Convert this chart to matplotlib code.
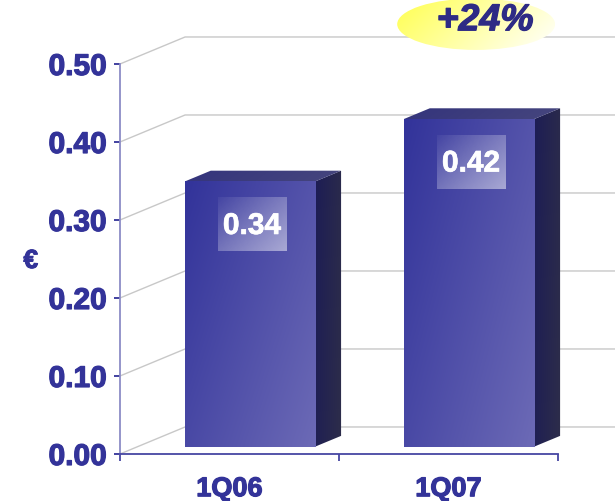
import matplotlib.pyplot as plt
import matplotlib.colors as mcolors
import matplotlib.patheffects as pe
import numpy as np
from matplotlib.patches import Polygon, Rectangle, Ellipse

quarters = ["1Q06", "1Q07"]
eps = [0.34, 0.42]
yticks = [0.0, 0.1, 0.2, 0.3, 0.4, 0.5]

navy = "#333399"
plt.rcParams["font.family"] = ["Liberation Sans", "DejaVu Sans"]
plt.rcParams["font.weight"] = "bold"

fig = plt.figure(figsize=(6.15, 5.02), dpi=100)
ax = fig.add_axes([0, 0, 1, 1])
ax.set_xlim(-1.048, 1.76)
ax.set_ylim(-0.0603, 0.5833)
ax.patch.set_visible(False)

# fake 3d: depth vector of the box and where the bars sit inside it
dx, dy = 0.297, 0.0346
f0, fd = 0.27, 0.40
bw = 0.595
shift = 0.093


def heavy(color, w=0.9):
    return [pe.withStroke(linewidth=w, foreground=color)]


def gradient(c0, c1, wu, wv, n=64):
    u = np.linspace(0, 1, n)
    U, V = np.meshgrid(u, u)
    t = (wu * U + wv * V) / (wu + wv)
    a = np.array(mcolors.to_rgba(c0))
    b = np.array(mcolors.to_rgba(c1))
    return a + (b - a) * t[..., None]


def fill_gradient(patch, img, z):
    patch.set_transform(ax.transData)
    x0, y0, x1, y1 = patch.get_path().transformed(patch.get_patch_transform()).get_extents().extents
    im = ax.imshow(img, extent=[x0, x1, y0, y1], aspect="auto", zorder=z,
                   interpolation="bilinear")
    im.set_clip_path(patch)
    return im


# back wall grid lines
xmax = ax.get_xlim()[1]
for v in yticks:
    ax.plot([-0.5, -0.5 + dx, xmax], [v, v + dy, v + dy],
            color="#c8c8c8", lw=1, zorder=1)

for i, v in enumerate(eps):
    xl = i + shift - bw / 2
    xr = xl + bw
    yb = f0 * dy
    yt = v + f0 * dy
    ox, oy = fd * dx, fd * dy

    side = Polygon([(xr, yb), (xr + ox, yb + oy), (xr + ox, yt + oy), (xr, yt)],
                   closed=True, facecolor="none", edgecolor="none")
    fill_gradient(side, gradient("#1d1d55", "#2d2d4a", 1, 0.2), 3)

    top = Polygon([(xl, yt), (xr, yt), (xr + ox, yt + oy), (xl + ox, yt + oy)],
                  closed=True, facecolor="none", edgecolor="none")
    fill_gradient(top, gradient("#34347c", "#46467e", 1, 0.1), 3)

    front = Rectangle((xl, yb), bw, yt - yb, facecolor="none", edgecolor="none")
    fill_gradient(front, gradient("#32339a", "#6c6ab6", 0.6, 0.4), 4)

    # value tag
    tw, th = 0.315, 0.069
    tx = xl + bw / 2 + 0.01 - tw / 2
    ty = yt - 0.0205 - th
    tag = Rectangle((tx, ty), tw, th, facecolor="none", edgecolor="none")
    fill_gradient(tag, gradient((1, 1, 1, 0.05), (1, 1, 1, 0.5), 0.5, 0.5), 5)
    ax.text(tx + tw / 2, ty + th / 2 - 0.002, f"{v:.2f}", color="white",
            fontsize=21.5, fontweight="bold", ha="center", va="center", zorder=6,
            path_effects=heavy("white", 0.5))

# growth bubble
growth = (eps[1] / eps[0] - 1) * 100
bubble = Ellipse((1.126, 0.551), 0.721, 0.066, facecolor="none", edgecolor="none")
fill_gradient(bubble, gradient("#ffff50", "#ffffff", 1, 0.35), 5)
ax.text(1.167, 0.556, f"+{growth:.0f}%", color="#2e2b85", fontsize=27,
        fontweight="bold", fontstyle="italic", ha="center", va="center", zorder=6,
        path_effects=heavy("#2e2b85", 0.9))

ax.spines["top"].set_visible(False)
ax.spines["right"].set_visible(False)
ax.spines["left"].set_position(("data", -0.5))
ax.spines["left"].set_bounds(0, 0.5)
ax.spines["left"].set_color("#8c8cc6")
ax.spines["left"].set_linewidth(1.3)
ax.spines["bottom"].set_position(("data", 0))
ax.spines["bottom"].set_bounds(-0.5, 1.5)
ax.spines["bottom"].set_color("#4646a3")
ax.spines["bottom"].set_linewidth(1.3)

ax.set_yticks(yticks)
ax.set_yticklabels([f"{t:.2f}" for t in yticks])
ax.tick_params(axis="y", length=4.5, width=1.3, color=navy, pad=5,
               labelsize=21.5, labelcolor=navy)
ax.set_xticks([-0.5, 0.5, 1.5])
ax.set_xticklabels(["", "", ""])
ax.set_xticks([0, 1], minor=True)
ax.set_xticklabels(quarters, minor=True)
ax.tick_params(axis="x", which="major", length=5, width=1.3, color="#4646a3")
ax.tick_params(axis="x", which="minor", length=0, pad=16, labelsize=19.5,
               labelcolor=navy)
for lab in ax.get_xticklabels(minor=True) + ax.get_yticklabels():
    lab.set_fontweight("bold")
    lab.set_path_effects(heavy(navy, 0.9))

ax.set_ylabel("€", rotation=0, fontsize=19, color=navy, fontweight="bold",
              ha="center", va="center", path_effects=heavy(navy, 0.7))
ax.yaxis.set_label_coords(0.050, 0.478)

ax.set_xlim(-1.048, 1.76)
ax.set_ylim(-0.0603, 0.5833)

fig.savefig("out.png", dpi=100)
